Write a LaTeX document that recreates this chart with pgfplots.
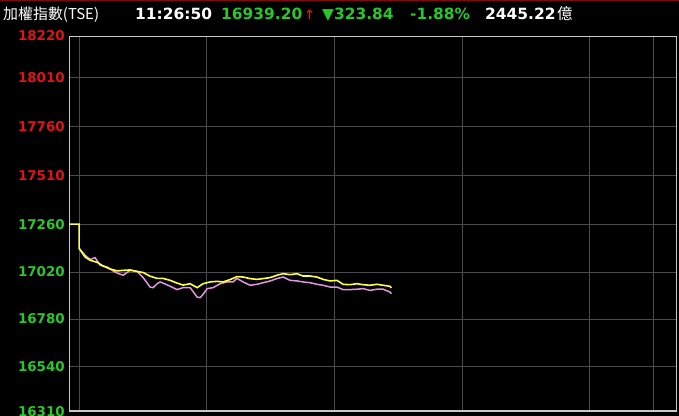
\documentclass[border=0pt]{standalone}
\usepackage{pgfplots}
\pgfplotsset{compat=1.18}
\usepackage{fontspec}
\setmainfont{DejaVu Sans}
\newfontfamily\cjk{Noto Sans CJK TC}
\definecolor{upred}{RGB}{225,20,20}
\definecolor{dngreen}{RGB}{40,200,40}
\definecolor{idxyellow}{RGB}{255,255,70}
\definecolor{idxpink}{RGB}{225,150,225}
\definecolor{gridgray}{RGB}{75,75,75}
\definecolor{framegray}{RGB}{200,200,200}
\definecolor{topred}{RGB}{130,10,10}

% minutes after 9:00, index value
\pgfplotstableread{
t v
-4.5 17263
0 17263
0 17140
2.8 17096
5.2 17079
8.5 17069
11.3 17050
14.6 17035
17.9 17025
20.7 17028
24.0 17030
27.3 17022
30.1 17017
33.4 16998
36.7 16987
39.5 16987
42.8 16977
46.1 16963
48.9 16953
52.2 16960
55.5 16940
58.3 16960
61.6 16969
64.8 16972
67.7 16969
71.0 16981
74.2 16996
77.1 16994
80.4 16986
83.6 16982
86.5 16986
89.8 16991
93.0 17003
95.9 17011
99.2 17006
102.4 17011
105.3 16999
108.6 16999
111.8 16994
114.7 16982
118.0 16974
121.2 16977
124.1 16957
127.3 16955
130.6 16960
133.5 16955
136.7 16952
140.0 16957
142.9 16952
146.1 16947
146.8 16939
}\yellowdata

\pgfplotstableread{
t v
0 17140
2.8 17105
5.2 17083
7.5 17093
9.9 17054
13.2 17045
16.0 17025
17.9 17014
20.7 17003
24.0 17028
27.3 17023
30.1 16991
33.4 16943
34.8 16940
36.7 16960
38.1 16969
39.5 16963
42.8 16947
46.1 16930
48.9 16940
52.2 16940
55.5 16892
56.9 16889
58.3 16906
60.2 16935
63.0 16940
66.3 16960
69.5 16969
72.4 16969
74.2 16987
77.1 16969
80.4 16952
83.6 16957
86.5 16965
89.8 16974
93.0 16986
95.9 16994
99.2 16977
102.4 16974
105.3 16969
108.6 16965
111.8 16957
114.7 16952
118.0 16943
121.2 16943
124.1 16930
127.3 16930
130.6 16932
133.5 16935
136.7 16926
140.0 16932
142.9 16932
146.1 16918
146.8 16909
}\pinkdata

\begin{document}
\begin{tikzpicture}
\fill[black] (0,0) rectangle (679bp,416bp);
\draw[topred, line width=1.2bp] (0,415.4bp) -- (679bp,415.4bp);
\begin{axis}[
  at={(69.5bp,4.5bp)}, anchor=south west,
  scale only axis, width=607bp, height=375.5bp,
  xmin=-4.5, xmax=280.8, ymin=16310, ymax=18220,
  axis line style={framegray, line width=0.8bp},
  xtick={0,60,120,180,240,270}, xticklabels={},
  ytick={16310,16540,16780,17020,17260,17510,17760,18010,18220},
  yticklabels={\textcolor{dngreen}{16310},\textcolor{dngreen}{16540},\textcolor{dngreen}{16780},\textcolor{dngreen}{17020},\textcolor{dngreen}{17260},\textcolor{upred}{17510},\textcolor{upred}{17760},\textcolor{upred}{18010},\textcolor{upred}{18220}},
  major tick length=0pt,
  grid=major, major grid style={gridgray, line width=0.8bp},
  yticklabel style={font=\bfseries\fontsize{13.5}{14}\selectfont, anchor=east, inner sep=0pt, xshift=-4.5bp},
]
\addplot[idxpink, line width=1.5bp] table[x=t, y=v] {\pinkdata};
\addplot[idxyellow, line width=1.6bp] table[x=t, y=v] {\yellowdata};
\draw[framegray, line width=2.2bp] (rel axis cs:0,0) -- (rel axis cs:1,0);
\end{axis}
\begin{scope}[every node/.style={anchor=base west, inner sep=0pt}]
\node[white] at (3bp,396.5bp) {\cjk\fontsize{15}{16}\selectfont 加權指數(TSE)};
\node[white] at (135bp,396.5bp) {\bfseries\fontsize{15.5}{16}\selectfont 11:26:50};
\node[dngreen] at (221bp,396.5bp) {\bfseries\fontsize{15.5}{16}\selectfont 16939.20};
\node[upred] at (304bp,396.5bp) {\bfseries\fontsize{13}{14}\selectfont ↑};
\node[dngreen] at (322bp,396.5bp) {\bfseries\fontsize{15.5}{16}\selectfont ▼323.84};
\node[dngreen] at (410bp,396.5bp) {\bfseries\fontsize{15.5}{16}\selectfont -1.88\%};
\node[white] at (485bp,396.5bp) {\bfseries\fontsize{15.5}{16}\selectfont 2445.22};
\node[white] at (557bp,396.5bp) {\cjk\fontsize{15.5}{16}\selectfont 億};
\end{scope}
\pgfresetboundingbox
\path[use as bounding box] (0,0) rectangle (679bp,416bp);
\end{tikzpicture}
\end{document}
